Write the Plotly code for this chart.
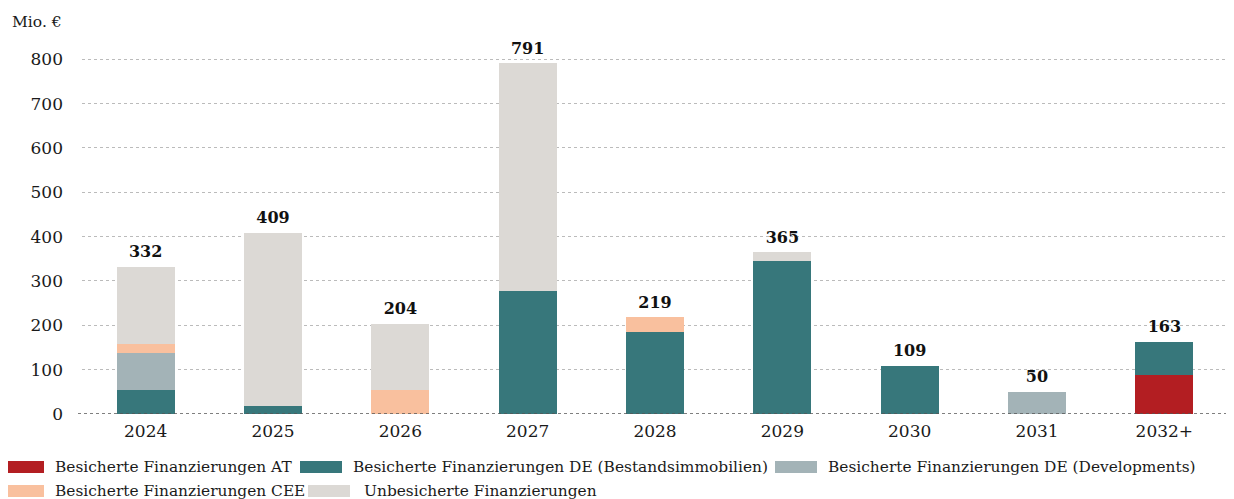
import plotly.graph_objects as go

categories = ["2024", "2025", "2026", "2027", "2028", "2029", "2030", "2031", "2032+"]
at_secured = [0, 0, 0, 0, 0, 0, 0, 0, 88]
de_existing = [54, 18, 0, 277, 186, 345, 109, 0, 75]
de_developments = [83, 0, 0, 0, 0, 0, 0, 50, 0]
cee_secured = [20, 0, 54, 0, 33, 0, 0, 0, 0]
unsecured = [175, 391, 150, 514, 0, 20, 0, 0, 0]
totals = [332, 409, 204, 791, 219, 365, 109, 50, 163]
y_ticks = [0, 100, 200, 300, 400, 500, 600, 700, 800]

series_names = [
    "Besicherte Finanzierungen AT",
    "Besicherte Finanzierungen DE (Bestandsimmobilien)",
    "Besicherte Finanzierungen DE (Developments)",
    "Besicherte Finanzierungen CEE",
    "Unbesicherte Finanzierungen",
]
series_values = [at_secured, de_existing, de_developments, cee_secured, unsecured]
series_colors = ["#B31E22", "#37777B", "#A3B3B7", "#F9C09E", "#DCD9D5"]

FONT = "DejaVu Serif"
TEXT = "#1A1A1A"

# page has an 8px body margin; figure coords = page coords - 8
OFF = 8
W, H = 1234, 499
ML, MR, MT, MB = 74, 14, 38, 93
PW, PH = W - ML - MR, H - MT - MB


def px_x(px):
    return (px - OFF - ML) / PW


def px_y(py):
    return (H - MB - (py - OFF)) / PH


fig = go.Figure()
for name, vals, color in zip(series_names, series_values, series_colors):
    fig.add_trace(go.Bar(
        x=categories, y=vals, name=name,
        marker=dict(color=color, line=dict(width=0)),
        hoverinfo="x+y+name", showlegend=False,
    ))

fig.add_trace(go.Scatter(
    x=categories, y=totals, mode="text+markers",
    marker=dict(size=7, color="rgba(0,0,0,0)"),
    text=[f"<b>{t}</b>" for t in totals], textposition="top center",
    textfont=dict(family=FONT, size=16, color="#111111"),
    cliponaxis=False,
    hoverinfo="skip", showlegend=False,
))

fig.add_annotation(
    xref="paper", yref="paper", x=px_x(10), y=px_y(22),
    text="Mio. €", showarrow=False, xanchor="left", yanchor="middle",
    font=dict(family=FONT, size=15.5, color=TEXT),
)

# dotted baseline
fig.add_shape(
    type="line", xref="paper", yref="y", x0=px_x(78), x1=px_x(1234), y0=0, y1=0,
    line=dict(color="#555555", width=1.5, dash="dot"),
)

# custom legend (swatch + label)
legend_layout = [
    (0, 2, 53, 467),
    (1, 300, 351, 467),
    (2, 775, 826, 467),
    (3, 2, 53, 491),
    (4, 308, 362, 491),
]
for idx, sx, tx, cy in legend_layout:
    fig.add_shape(
        type="rect", xref="paper", yref="paper",
        x0=px_x(sx), x1=px_x(sx + 42), y0=px_y(cy - 6), y1=px_y(cy + 6),
        fillcolor=series_colors[idx], line=dict(width=0),
    )
    fig.add_annotation(
        xref="paper", yref="paper", x=px_x(tx), y=px_y(cy),
        text=series_names[idx], showarrow=False, xanchor="left", yanchor="middle",
        font=dict(family=FONT, size=15.4, color=TEXT),
    )

fig.update_layout(
    barmode="stack",
    bargap=0.544,
    width=W, height=H,
    margin=dict(l=ML, r=MR, t=MT, b=MB, autoexpand=False),
    plot_bgcolor="white", paper_bgcolor="white",
    font=dict(family=FONT, size=15, color=TEXT),
    showlegend=False,
    xaxis=dict(
        type="category", range=[-0.5, len(categories) - 0.5],
        showgrid=False, showline=False, zeroline=False, ticks="",
        tickfont=dict(family=FONT, size=17, color=TEXT),
        ticklabelstandoff=5,
    ),
    yaxis=dict(
        range=[0, 830], tickvals=y_ticks,
        showgrid=True, gridcolor="#BBBBBB", gridwidth=1, griddash="dot",
        zeroline=False, showline=False, ticks="",
        tickfont=dict(family=FONT, size=17, color=TEXT),
        ticklabelstandoff=18,
    ),
)

fig.write_html("out.html")
